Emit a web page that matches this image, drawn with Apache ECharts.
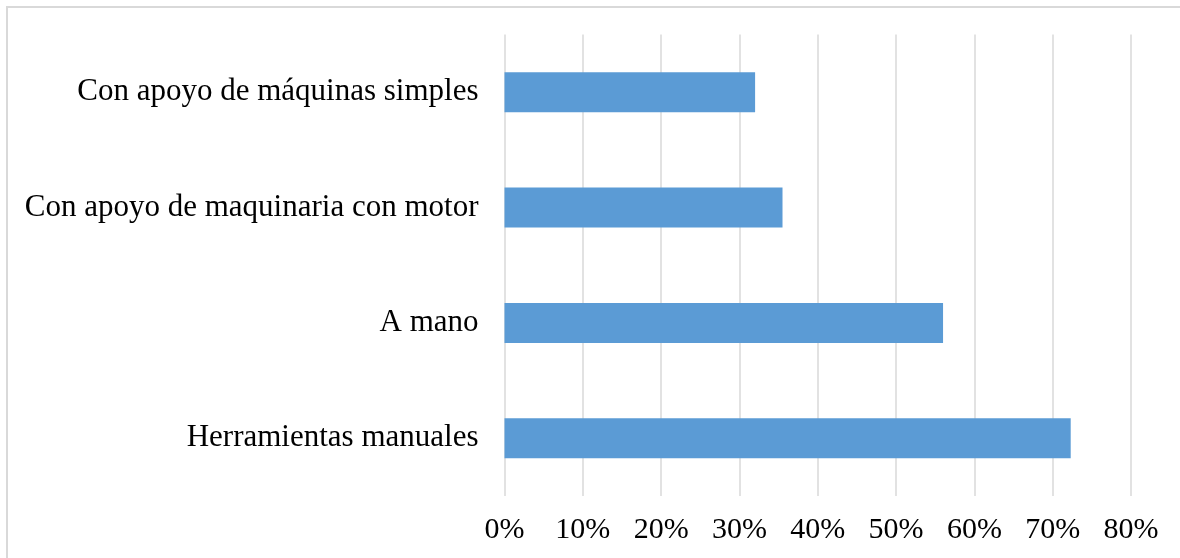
<!DOCTYPE html>
<html>
<head>
<meta charset="utf-8">
<script src="https://cdn.jsdelivr.net/npm/echarts@6/dist/echarts.min.js"></script>
<style>
html,body{margin:0;padding:0;background:#fff;}
#chart{width:1180px;height:558px;}
</style>
</head>
<body>
<div id="chart"></div>
<script>
const categories = [
  "Con apoyo de máquinas simples",
  "Con apoyo de maquinaria con motor",
  "A mano",
  "Herramientas manuales"
];
const values = [32, 35.5, 56, 72.3];
const xTicks = { min: 0, max: 80, interval: 10 };

const chart = echarts.init(document.getElementById('chart'), null, { renderer: 'canvas' });
const font = '"Liberation Serif", "Times New Roman", serif';
chart.setOption({
  animation: false,
  backgroundColor: '#ffffff',
  graphic: [{
    type: 'rect',
    shape: { x: 7, y: 7, width: 1300, height: 700 },
    style: { fill: 'none', stroke: '#d9d9d9', lineWidth: 2 },
    silent: true
  }],
  grid: { left: 504.5, right: 49, top: 34.5, bottom: 62, containLabel: false },
  xAxis: {
    type: 'value',
    min: xTicks.min, max: xTicks.max, interval: xTicks.interval,
    axisLine: { show: false },
    axisTick: { show: false },
    splitLine: { show: true, lineStyle: { color: '#d9d9d9', width: 1.5 } },
    axisLabel: {
      formatter: '{value}%',
      color: '#000', fontFamily: font, fontSize: 30, margin: 19
    }
  },
  yAxis: {
    type: 'category',
    data: categories,
    inverse: true,
    axisLine: { show: false },
    axisTick: { show: false },
    splitLine: { show: false },
    axisLabel: { color: '#000', fontFamily: font, fontSize: 31, margin: 26 }
  },
  series: [{
    type: 'bar',
    data: values,
    barWidth: 40,
    itemStyle: { color: '#5b9bd5' }
  }]
});
</script>
</body>
</html>
